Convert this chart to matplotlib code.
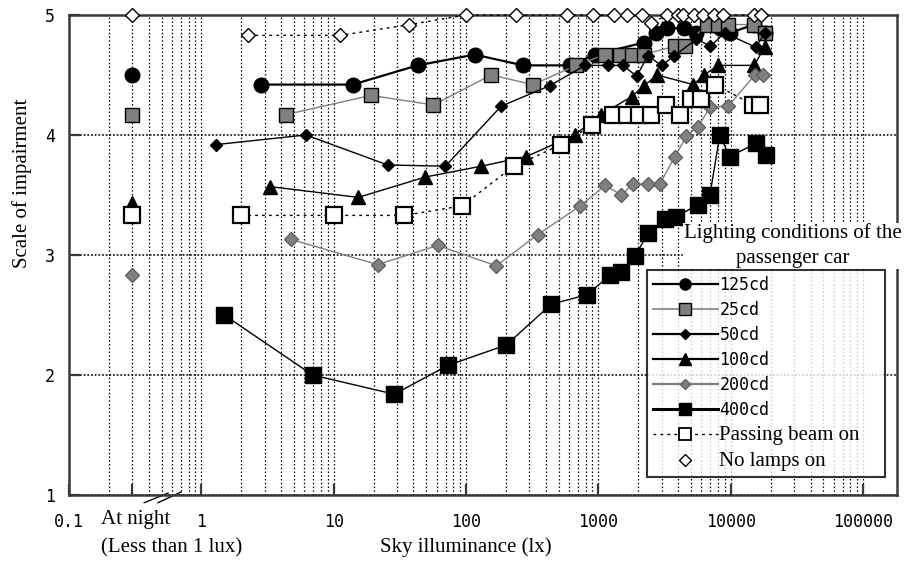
import numpy as np
import matplotlib
matplotlib.use("Agg")
import matplotlib.pyplot as plt
from matplotlib.lines import Line2D
import matplotlib.transforms as mtransforms

# night-time readings (plotted at a nominal 0.3 lx position)
night_x = 0.3
night_125 = 4.5
night_25 = 4.17
night_100 = 3.43
night_200 = 2.83
night_pass = 3.33
night_none = 5.0

# daytime readings: sky illuminance (lx) vs scale of impairment
x_125 = [2.8, 13.9, 43, 116, 270, 610, 940, 2200, 2700, 3300, 4400, 5500, 8300, 9800, 15000, 18000]
y_125 = [4.42, 4.42, 4.58, 4.67, 4.58, 4.58, 4.67, 4.77, 4.85, 4.89, 4.89, 4.85, 4.89, 4.85, 4.92, 4.85]

x_25 = [4.36, 19.1, 56.6, 155, 320, 680, 1120, 1450, 1780, 2190, 3800, 4500, 6570, 8000, 9550, 15000, 18000]
y_25 = [4.17, 4.33, 4.25, 4.5, 4.42, 4.58, 4.67, 4.67, 4.67, 4.67, 4.74, 4.74, 4.92, 4.92, 4.92, 4.92, 4.85]

x_50 = [1.29, 6.17, 25.6, 69.8, 184, 427, 795, 1180, 1520, 1950, 2350, 3000, 3750, 5500, 7000, 9000, 15500, 18000]
y_50 = [3.92, 4.0, 3.75, 3.74, 4.24, 4.41, 4.58, 4.58, 4.58, 4.49, 4.66, 4.58, 4.66, 4.8, 4.74, 4.85, 4.73, 4.85]

x_100 = [3.3, 15.3, 49.3, 130, 285, 660, 1050, 1780, 2210, 2770, 5200, 6300, 8000, 15000, 18000]
y_100 = [3.57, 3.48, 3.65, 3.74, 3.82, 4.0, 4.17, 4.32, 4.41, 4.5, 4.42, 4.5, 4.58, 4.58, 4.73]

x_200 = [4.75, 21.5, 61, 169, 348, 730, 1125, 1490, 1820, 2370, 2900, 3780, 4620, 5660, 6950, 9550, 15200, 17500]
y_200 = [3.13, 2.92, 3.08, 2.91, 3.17, 3.41, 3.58, 3.5, 3.59, 3.59, 3.59, 3.82, 3.99, 4.07, 4.23, 4.24, 4.5, 4.5]

x_400 = [1.49, 6.92, 28.7, 72.8, 201, 440, 825, 1217, 1490, 1880, 2370, 3160, 3880, 5660, 6950, 8260, 9800, 15500, 18400]
y_400 = [2.5, 2.0, 1.84, 2.08, 2.25, 2.59, 2.67, 2.83, 2.86, 2.99, 3.18, 3.3, 3.32, 3.42, 3.5, 4.0, 3.82, 3.93, 3.83]

x_pass = [2.0, 10.1, 34.2, 93.5, 229, 525, 890, 1290, 1640, 2010, 2500, 3230, 4100, 5000, 5950, 7600, 14800, 16700]
y_pass = [3.33, 3.33, 3.33, 3.41, 3.74, 3.92, 4.08, 4.17, 4.17, 4.17, 4.17, 4.25, 4.17, 4.3, 4.3, 4.42, 4.25, 4.25]

x_none = [2.27, 11.2, 37.3, 100, 240, 575, 913, 1320, 1630, 2120, 2500, 3300, 4000, 4370, 5240, 6200, 7400, 8800, 15000, 17000]
y_none = [4.83, 4.83, 4.92, 5, 5, 5, 5, 5, 5, 5, 4.93, 5, 5, 5, 5, 5, 5, 5, 5, 5]

tick_vals = [0.1, 0.3, 1, 10, 100, 1000, 10000, 100000]
tick_labels = ['0.1', '', '1', '10', '100', '1000', '10000', '100000']

GRAY = '#808080'
DARK = '#3a3a3a'
serif = 'Liberation Serif'
mono = 'DejaVu Sans Mono'

fig = plt.figure(figsize=(9.1, 5.61), dpi=100)
ax = fig.add_axes([0.0758, 0.1176, 0.9099, 0.8557])
ax.set_xscale('log')
ax.set_xlim(0.1, 1.8e5)
ax.set_ylim(1, 5)

# grid
ax.set_xticks(tick_vals)
ax.set_xticklabels(tick_labels, fontfamily=mono, fontsize=12)
ax.xaxis.set_minor_locator(matplotlib.ticker.LogLocator(base=10, subs=np.arange(2, 10)))
ax.xaxis.set_minor_formatter(matplotlib.ticker.NullFormatter())
ax.set_yticks([1, 2, 3, 4, 5])
ax.set_yticklabels(['1', '2', '3', '4', '5'], fontfamily=mono, fontsize=12)
ax.grid(True, which='both', axis='x', color='black', linestyle=(0, (1.2, 1.8)), linewidth=0.9)
ax.grid(True, which='major', axis='y', color='black', linestyle=(0, (1.2, 1.2)), linewidth=1.1)
ax.tick_params(axis='both', which='major', direction='in', length=8, width=1.6, color=DARK, pad=10)
ax.tick_params(axis='x', which='major', pad=13)
ax.tick_params(axis='x', which='minor', length=0)
for s in ax.spines.values():
    s.set_color(DARK)
    s.set_linewidth(1.8)

# series
kw = dict(markeredgecolor='black', markeredgewidth=1.0, zorder=3)
ax.plot(x_125, y_125, '-', color='black', lw=1.6, marker='o', ms=10.5, markerfacecolor='black', **kw)
ax.plot(x_25, y_25, '-', color=GRAY, lw=1.0, marker='s', ms=10.5, markerfacecolor=GRAY, **kw)
ax.plot(x_50, y_50, '-', color='black', lw=1.0, marker='D', ms=6.0, markerfacecolor='black', **kw)
ax.plot(x_100, y_100, '-', color='black', lw=1.0, marker='^', ms=10.5, markerfacecolor='black', **kw)
ax.plot(x_200, y_200, '-', color=GRAY, lw=1.0, marker='D', ms=6.8, markerfacecolor=GRAY,
        markeredgecolor='#606060', markeredgewidth=1.0, zorder=3)
ax.plot(x_400, y_400, '-', color='black', lw=1.0, marker='s', ms=11.5, markerfacecolor='black', **kw)
ax.plot(x_pass, y_pass, color='black', lw=1.0, linestyle=(0, (2, 3)), marker='s', ms=11,
        markerfacecolor='white', markeredgecolor='black', markeredgewidth=1.6, zorder=4)
ax.plot(x_none, y_none, color='black', lw=1.0, linestyle=(0, (2, 3)), marker='D', ms=7,
        markerfacecolor='white', markeredgecolor='black', markeredgewidth=1.0, zorder=4, clip_on=False)

# night points
ax.plot(night_x, night_125, 'o', ms=10.5, color='black', zorder=3)
ax.plot(night_x, night_25, 's', ms=10.5, markerfacecolor=GRAY, markeredgecolor='black', zorder=3)
ax.plot(night_x, night_100, '^', ms=10.5, color='black', zorder=3)
ax.plot(night_x, night_pass, 's', ms=11, markerfacecolor='white', markeredgecolor='black',
        markeredgewidth=1.6, zorder=4)
ax.plot(night_x, night_200, 'D', ms=6.8, markerfacecolor=GRAY, markeredgecolor='#606060', zorder=3)
ax.plot(night_x, night_none, 'D', ms=7, markerfacecolor='white', markeredgecolor='black',
        zorder=4, clip_on=False)

# axis break marks
trans = mtransforms.blended_transform_factory(ax.transData, ax.transAxes)
ax.plot([0.37, 0.56], [-0.016, 0.004], color='black', lw=1.0, transform=trans, clip_on=False)
ax.plot([0.47, 0.7], [-0.016, 0.006], color='black', lw=1.0, transform=trans, clip_on=False)

# legend
handles = [
    Line2D([], [], color='black', lw=1.6, marker='o', ms=8, markerfacecolor='black', markeredgecolor='black'),
    Line2D([], [], color=GRAY, lw=1.2, marker='s', ms=8, markerfacecolor=GRAY, markeredgecolor='black'),
    Line2D([], [], color='black', lw=1.6, marker='D', ms=5, markerfacecolor='black', markeredgecolor='black'),
    Line2D([], [], color='black', lw=1.6, marker='^', ms=8, markerfacecolor='black', markeredgecolor='black'),
    Line2D([], [], color=GRAY, lw=1.6, marker='D', ms=5.5, markerfacecolor=GRAY, markeredgecolor='#606060'),
    Line2D([], [], color='black', lw=2.2, marker='s', ms=9, markerfacecolor='black', markeredgecolor='black'),
    Line2D([], [], color='black', lw=1.0, linestyle=(0, (2, 3)), marker='s', ms=8,
           markerfacecolor='white', markeredgecolor='black', markeredgewidth=1.3),
    Line2D([], [], linestyle='none', marker='D', ms=6, markerfacecolor='white', markeredgecolor='black'),
]
labels = ['125cd', '25cd', '50cd', '100cd', '200cd', '400cd', 'Passing beam on', 'No lamps on']
leg = ax.legend(handles, labels, loc='upper left', bbox_to_anchor=(0.698, 0.0375, 0.288, 0.4315),
                mode='expand', borderaxespad=0, frameon=True, fancybox=False, handlelength=3.9,
                labelspacing=0.42, handletextpad=0.1, borderpad=0.35, prop={'family': mono, 'size': 12})
leg.get_frame().set_edgecolor('black')
leg.get_frame().set_linewidth(1.5)
leg.set_zorder(6)
for t in leg.get_texts()[6:]:
    t.set_fontfamily(serif)
    t.set_fontsize(15)

# annotations
ax.text(0.874, 0.472, 'Lighting conditions of the\npassenger car', transform=ax.transAxes,
        ha='center', va='bottom', fontfamily=serif, fontsize=15, linespacing=1.45, zorder=6,
        bbox=dict(facecolor='white', edgecolor='none', pad=0.5))
ax.text(-0.057, 0.65, 'Scale of impairment', transform=ax.transAxes, rotation=90,
        ha='center', va='center', fontfamily=serif, fontsize=15)
ax.text(100, -0.108, 'Sky illuminance (lx)', transform=trans, ha='center', va='center',
        fontfamily=serif, fontsize=15)
ax.text(0.175, -0.052, 'At night', transform=trans, ha='left', va='center',
        fontfamily=serif, fontsize=15)
ax.text(0.175, -0.11, '(Less than 1 lux)', transform=trans, ha='left', va='center',
        fontfamily=serif, fontsize=15)

fig.savefig('out.png', dpi=100)
